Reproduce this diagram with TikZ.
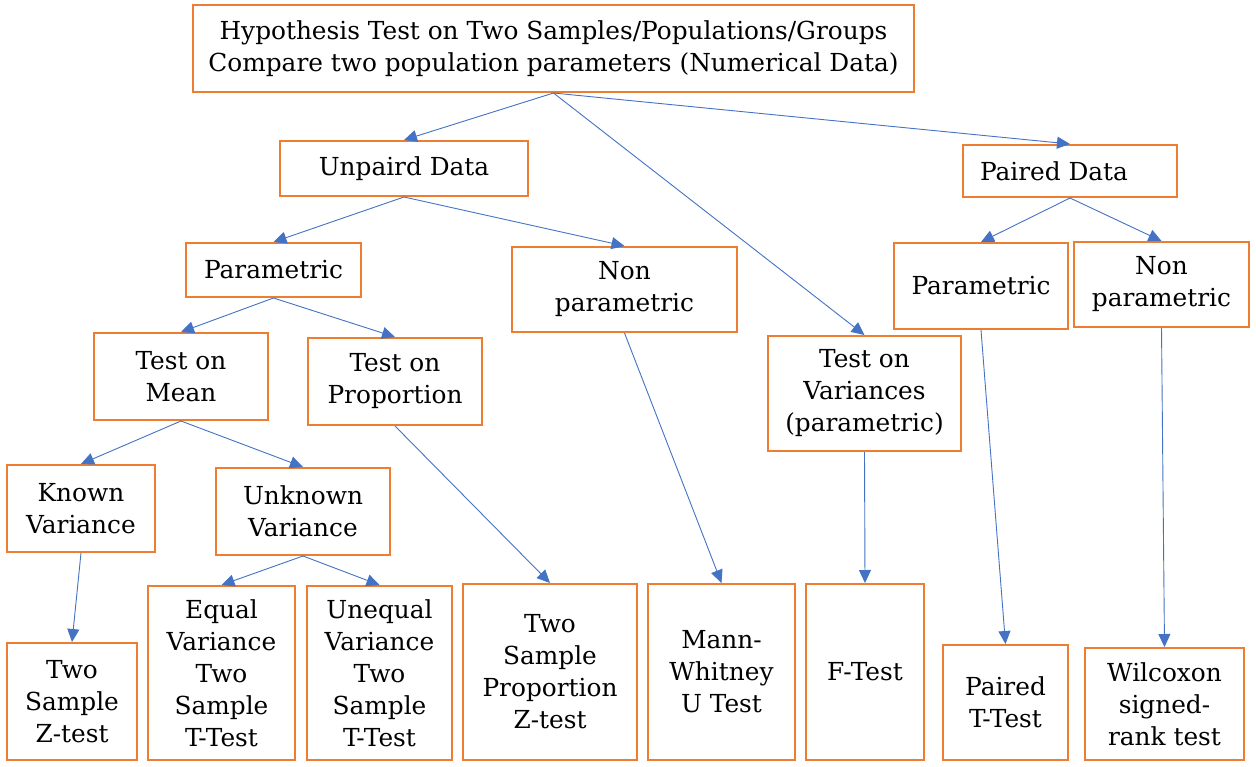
\documentclass[tikz,border=0pt]{standalone}
\usepackage{fontspec}
\setmainfont{DejaVu Serif}
\usetikzlibrary{arrows.meta}
\definecolor{boxorange}{HTML}{ED7D31}
\definecolor{arrblue}{HTML}{4472C4}
\begin{document}
\begin{tikzpicture}[x=1pt,y=-1pt,
  box/.style={draw=boxorange,line width=2pt,inner sep=0pt,align=center,
    font=\fontsize{24.8}{32}\selectfont},
  arr/.style={draw=arrblue,line width=0.9pt,-{Triangle[length=13pt,width=12pt]}}]
\useasboundingbox (0,0) rectangle (1256,766);
\fill[white] (0,0) rectangle (1256,766);
\newcommand\bx[6]{\node[box,minimum width=#4pt,minimum height=#5pt] (#1) at (#2,#3) {#6};}
\bx{top}{553.5}{48.5}{721}{87}{Hypothesis Test on Two Samples/Populations/Groups\\Compare two population parameters (Numerical Data)}
\bx{unp}{404}{168.5}{248}{55}{Unpaird Data}
\bx{pd}{1070}{171}{214}{52}{Paired Data\hspace*{32pt}}
\bx{parL}{273.5}{270}{175}{54}{Parametric}
\bx{npM}{624.5}{289.5}{225}{85}{Non\\parametric}
\bx{parR}{981}{286}{174}{86}{Parametric}
\bx{npR}{1161.5}{284.5}{175}{85}{Non\\parametric}
\bx{mean}{181}{376.5}{174}{87}{Test on\\Mean}
\bx{prop}{395}{381.5}{174}{87}{Test on\\Proportion}
\bx{var}{864.5}{393.5}{193}{115}{Test on\\Variances\\(parametric)}
\bx{known}{81}{508.5}{148}{87}{Known\\Variance}
\bx{unknown}{303}{511.5}{174}{87}{Unknown\\Variance}
\bx{z}{72}{701.5}{130}{117}{Two\\Sample\\Z-test}
\bx{eq}{221.5}{673}{147}{174}{Equal\\Variance\\Two\\Sample\\T-Test}
\bx{uneq}{379.5}{673}{145}{174}{Unequal\\Variance\\Two\\Sample\\T-Test}
\bx{prop2}{550}{672}{174}{176}{Two\\Sample\\Proportion\\Z-test}
\bx{mw}{721.5}{672}{147}{176}{Mann-\\Whitney\\U Test}
\bx{f}{865}{672}{118}{176}{F-Test}
\bx{pt}{1005.5}{702.5}{125}{115}{Paired\\T-Test}
\bx{wil}{1164.5}{704}{159}{112}{Wilcoxon\\signed-\\rank test}
\draw[arr] (top.south) -- (unp.north);
\draw[arr] (top.south) -- (pd.north);
\draw[arr] (top.south) -- (var.north);
\draw[arr] (unp.south) -- (parL.north);
\draw[arr] (unp.south) -- (npM.north);
\draw[arr] (parL.south) -- (mean.north);
\draw[arr] (parL.south) -- (prop.north);
\draw[arr] (mean.south) -- (known.north);
\draw[arr] (mean.south) -- (unknown.north);
\draw[arr] (unknown.south) -- (eq.north);
\draw[arr] (unknown.south) -- (uneq.north);
\draw[arr] (known.south) -- (z.north);
\draw[arr] (prop.south) -- (prop2.north);
\draw[arr] (npM.south) -- (mw.north);
\draw[arr] (var.south) -- (f.north);
\draw[arr] (pd.south) -- (parR.north);
\draw[arr] (pd.south) -- (npR.north);
\draw[arr] (parR.south) -- (pt.north);
\draw[arr] (npR.south) -- (wil.north);
\end{tikzpicture}
\end{document}
